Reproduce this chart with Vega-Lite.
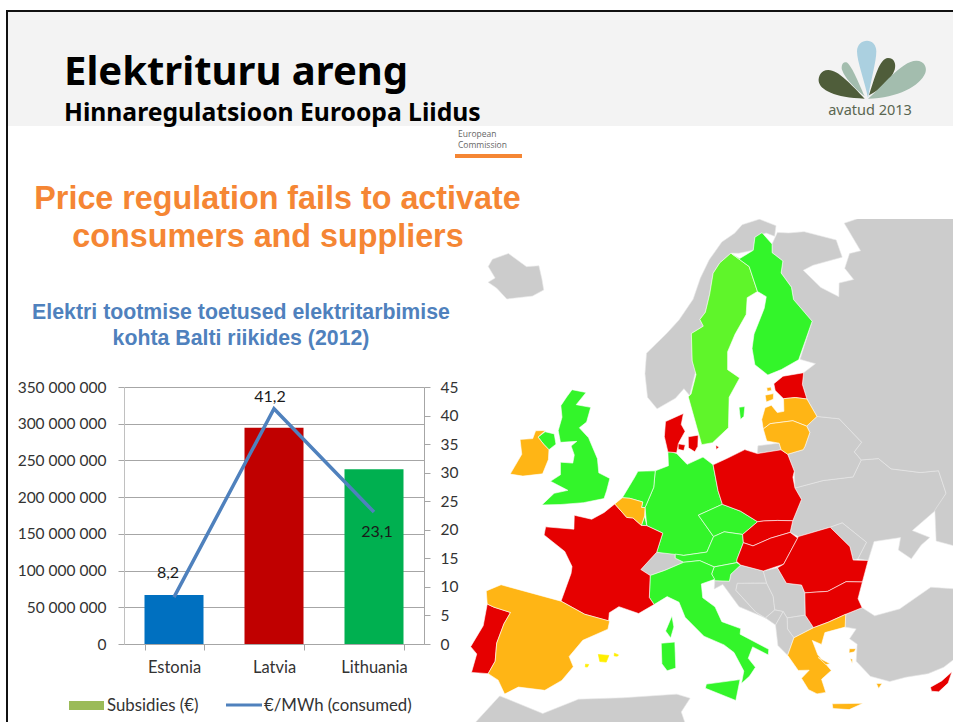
{"$schema":"https://vega.github.io/schema/vega-lite/v6.json","width":300,"height":257,"autosize":{"type":"none"},"padding":{"left":124,"top":387,"right":529,"bottom":78},"background":"white","config":{"view":{"stroke":null},"text":{"font":"Lato"}},
"datasets":{"one":[{}],
"chart":[{"country":"Estonia","subsidies":66700000,"price":8.2,"label":"8,2"},{"country":"Latvia","subsidies":294600000,"price":41.2,"label":"41,2"},{"country":"Lithuania","subsidies":238000000,"price":23.1,"label":"23,1"}],
"geo":[
{"p":"Iceland","s":"grey","c":[[-24,65.5],[-22,66.4],[-18,66.1],[-16,66.5],[-14.6,65.7],[-13.6,65],[-15,64.3],[-18.7,63.4],[-21,63.8],[-22.7,63.9],[-22,64.4],[-24,64.9],[-24,65.5]]},
{"p":"Norway","s":"grey","c":[[24,71],[28,71.1],[31,70.3],[30,69.6],[28.5,70],[26,69.9],[25,69],[22,69],[20.5,69.1],[18,68.5],[16.5,67.8],[15.5,66.3],[14.5,65],[13.5,64.5],[14,64],[12,63.5],[12,61.5],[12.5,60.8],[11.5,59],[10.7,59.5],[9.5,58.8],[7,58],[5.6,58.8],[5,60.5],[5,62],[8,63.5],[10,64.5],[12.5,66],[14,67.5],[16,68.8],[19,70],[22,70.5],[24,71]]},
{"p":"Kaliningrad","s":"grey","c":[[20,54.95],[22.7,54.9],[22.8,54.4],[19.8,54.4],[20,54.95]]},
{"p":"Switzerland","s":"grey","c":[[7.6,47.6],[9.6,47.5],[9.6,47.2],[10.5,46.9],[8.5,46.3],[7,45.9],[6,46.3],[7.6,47.6]]},
{"p":"Croatia","s":"grey","c":[[13.7,45.5],[15.2,45.4],[15.4,45.9],[16.5,46.5],[18.8,45.9],[19,45],[16,45.2],[15.8,44.7],[17.6,43],[18.5,42.5],[16,43.5],[14.5,45.2],[13.6,44.9],[13.7,45.5]]},
{"p":"Bosnia","s":"grey","c":[[16,45.2],[19,45],[19.5,44],[19.5,43],[18.5,42.5],[17.6,43],[15.8,44.7],[16,45.2]]},
{"p":"Serbia","s":"grey","c":[[18.8,45.9],[20.3,46],[21,44.8],[22.5,44.5],[22.7,43.9],[22.4,42.3],[20.6,42.3],[20.3,42.8],[19.5,43],[19.5,44],[19,45],[18.8,45.9]]},
{"p":"Montenegro","s":"grey","c":[[18.5,42.5],[19.5,43],[20.3,42.8],[19.4,41.9],[18.5,42.5]]},
{"p":"Macedonia","s":"grey","c":[[20.6,42.3],[22.4,42.3],[23,41.3],[21,40.8],[20.5,41.5],[20.6,42.3]]},
{"p":"Albania","s":"grey","c":[[19.4,41.9],[20.3,42.8],[20.6,42.3],[20.5,41.5],[21,40.8],[20.2,39.6],[19.4,40.4],[19.4,41.9]]},
{"p":"Ukraine","s":"grey","c":[[23.6,51.5],[27,51.6],[30.5,51.3],[32,52.3],[34,52],[35,51],[38,50],[40,49.6],[39.8,47.9],[38.2,47.1],[35,46.3],[36.5,45.4],[35.4,45.1],[34,44.4],[33,45.3],[33.6,46.1],[30.8,46.4],[29.7,45.2],[28.7,45.5],[30,46.5],[28,48.3],[26.6,48.2],[23,48],[22.2,48.4],[22.7,49.2],[24.1,50.6],[23.6,51.5]]},
{"p":"Moldova","s":"grey","c":[[26.6,48.2],[28,48.3],[30,46.5],[28.7,45.5],[28.2,45.5],[28.2,46.5],[26.6,48.2]]},
{"p":"Belarus","s":"grey","c":[[26.6,55.7],[28.2,56.2],[30.9,55.6],[32.7,53.5],[31.5,53],[32,52.3],[30.5,51.3],[27,51.6],[23.6,51.5],[23.9,52.7],[23.5,54],[25.5,54.1],[25.8,54.3],[26.8,55.2],[26.6,55.7]]},
{"p":"Russia","s":"grey","c":[[30.8,69.8],[33,69.5],[36,69.2],[41,67.7],[40.5,66.4],[35,66.7],[33,66.6],[34.8,65],[37,63.9],[38,64.8],[40.5,64.6],[40,65.6],[42,66.4],[44,66.2],[44,68.5],[50,68],[60,70],[80,70],[80,40],[47,40],[41.5,41.5],[40,43.4],[37,45],[38,47.1],[39.8,47.9],[40,49.6],[38,50],[35,51],[34,52],[32,52.3],[31.5,53],[32.7,53.5],[30.9,55.6],[28.2,56.2],[27.5,57.6],[27.4,58.7],[28,59.5],[30,59.9],[28,60.5],[31.5,62.9],[29.7,64.8],[30,65.7],[29,66.9],[30,67.7],[28.5,68.5],[29,69.1],[30.8,69.8]]},
{"p":"Turkey","s":"grey","c":[[26.3,41.8],[28,42],[29,41.2],[31.5,41.2],[35,42],[38,41],[41.5,41.5],[47,41.5],[47,36],[36,36],[35.8,36.7],[34,36.2],[32.5,36.1],[30.5,36.3],[29,36.3],[27.4,37],[26.4,38.3],[26.8,39.5],[26.2,40],[27,40.6],[26,40.9],[26.3,41.8]]},
{"p":"NorthAfrica","s":"grey","c":[[-6,35.8],[-2,35.1],[1,36.5],[5,36.9],[9.8,37.3],[11,37],[10.2,36],[11,34],[15,32.5],[20,31],[25,32],[30,31],[35,31.5],[35,20],[-20,20],[-10,30],[-6,35.8]]},
{"p":"Levant","s":"grey","c":[[36,36.5],[47,36],[47,28],[35,28],[34.3,31.3],[35.8,34.5],[36,36.5]]},
{"p":"Sweden","s":"lime","c":[[20.5,69.1],[23.5,67.9],[24,66],[22,65.7],[21.3,64.5],[19,63.2],[17.5,62],[17.2,60.7],[18.8,60],[17,58.7],[16.5,56.5],[14.3,55.5],[12.9,55.4],[11.3,58.9],[11.7,59.1],[12.5,60.5],[12,61.5],[12,63.5],[14,64],[13.5,64.5],[14.5,65],[15.5,66.3],[16.5,67.8],[18,68.5],[20.5,69.1]]},
{"p":"Finland","s":"green","c":[[26,69.9],[27.7,70.1],[29,69.1],[28.5,68.5],[30,67.7],[29,66.9],[30,65.7],[29.7,64.8],[31.5,62.9],[27.8,60.5],[25,60.1],[22.9,59.9],[21.3,60.8],[21.3,62],[22,63],[24.5,64.7],[25.3,65.5],[24,66],[23.5,67.9],[20.6,69.05],[22,68.6],[25,69],[26,69.9]]},
{"p":"Gotland","s":"green","c":[[18.2,57.9],[19,57.9],[18.7,57.2],[18.2,57],[18.2,57.9]]},
{"p":"Germany","s":"green","c":[[9,54.9],[9.7,54.8],[11,54],[13,54.5],[14.2,53.9],[14.6,52],[15,51],[12.2,50.3],[13.8,48.7],[13,47.6],[10.5,47.4],[7.6,47.6],[8.2,49],[6.4,49.5],[6.1,50.8],[7,52.3],[7.1,53.5],[8.7,53.9],[8.6,54.9],[9,54.9]]},
{"p":"Netherlands","s":"green","c":[[5,53.4],[7.1,53.5],[7,52.3],[6.1,50.8],[5.7,50.8],[5.8,51.2],[4.3,51.4],[3.4,51.4],[4.7,53],[5,53.4]]},
{"p":"Luxembourg","s":"green","c":[[6.1,50.2],[6.4,49.5],[5.8,49.5],[6.1,50.2]]},
{"p":"NorthernIreland","s":"green","c":[[-7.2,55.2],[-6,55.2],[-5.5,54.5],[-6.2,54],[-7,54.3],[-7.9,54.7],[-7.2,55.2]]},
{"p":"Britain","s":"green","c":[[-5,58.6],[-3,58.6],[-4,57.6],[-2,57.6],[-2.2,56.5],[-3,56],[-1.6,55.4],[-0.1,54],[0.3,53],[1.7,52.7],[1.5,51.8],[1.3,51.2],[-1,50.7],[-3.5,50.3],[-5.6,50],[-4.5,51],[-3,51.4],[-5.2,51.8],[-4.2,52.4],[-4.5,53.3],[-3,53.4],[-3,54],[-3.6,54.6],[-3,55],[-5,54.7],[-5.6,55.5],[-5.5,56.5],[-6,57.3],[-5.5,58],[-5,58.6]]},
{"p":"Czechia","s":"green","c":[[12.2,50.3],[15,51],[17,50.4],[18.8,49.5],[17,48.7],[15,49],[13.8,48.7],[12.2,50.3]]},
{"p":"Austria","s":"green","c":[[13.8,48.7],[15,49],[17,48.7],[17,48.1],[16.2,47],[16.1,46.7],[13.7,46.5],[12.2,47],[10.5,46.9],[9.6,47.2],[9.6,47.5],[10.5,47.4],[13,47.6],[13.8,48.7]]},
{"p":"Slovenia","s":"green","c":[[13.7,46.5],[16.1,46.7],[16.5,46.5],[15.4,45.9],[15.2,45.4],[13.7,45.5],[13.4,46],[13.7,46.5]]},
{"p":"Italy","s":"green","c":[[7,45.9],[8.5,46.3],[10.5,46.9],[12.2,47],[13.7,46.5],[13.4,46],[13.7,45.6],[12.3,45.3],[12.4,44.3],[13.6,43.6],[14.2,42.5],[16,41.9],[15.9,41.5],[18.5,40.2],[18.4,39.8],[17,40.5],[16.5,39.7],[17.1,39],[16.5,38.4],[15.7,37.9],[16,38.8],[15.2,40.2],[14.3,40.8],[12.4,41.5],[10.6,42.9],[10,44],[8.8,44.4],[7.5,43.8],[7,44.3],[7,45.9]]},
{"p":"Sicily","s":"green","c":[[12.5,38],[15.6,38.2],[15.1,36.7],[12.4,37.7],[12.5,38]]},
{"p":"Sardinia","s":"green","c":[[8.3,41],[9.6,41.1],[9.7,39.2],[8.9,39],[8.4,39.5],[8.3,41]]},
{"p":"Corsica","s":"green","c":[[9.3,43],[9.5,42.2],[9.2,41.4],[8.7,41.9],[9.3,43]]},
{"p":"Estonia","s":"red","c":[[23.5,59.2],[25,59.6],[28,59.5],[27.4,58.7],[27.5,57.6],[26,57.9],[24.4,58],[23.5,58.7],[23.5,59.2]]},
{"p":"Poland","s":"red","c":[[18.3,54.8],[19.8,54.4],[22.8,54.4],[23.5,54],[23.9,52.7],[23.6,52.3],[23.6,51.5],[24.1,50.6],[22.7,49.2],[21,49.4],[19.5,49.5],[18.8,49.5],[17,50.4],[15,51],[14.6,52],[14.2,53.9],[16,54.3],[18.3,54.8]]},
{"p":"Jutland","s":"red","c":[[10.6,57.7],[10.3,56.9],[10.8,56.4],[10,55.6],[9.7,54.85],[8.6,54.9],[8.1,56],[8.2,57.1],[10.6,57.7]]},
{"p":"Zealand","s":"red","c":[[11.2,56],[12.5,56.1],[12.4,55.3],[12,54.9],[11.2,55.2],[11.2,56]]},
{"p":"Funen","s":"red","c":[[9.9,55.5],[10.8,55.4],[10.6,55],[9.9,55.1],[9.9,55.5]]},
{"p":"Bornholm","s":"red","c":[[14.7,55.3],[15.1,55.15],[14.7,55],[14.7,55.3]]},
{"p":"France","s":"red","c":[[2.6,50.9],[4.1,50],[4.8,50],[5.8,49.5],[6.4,49.5],[8.2,49],[7.6,47.6],[6,46.3],[7,45.9],[7,44.3],[7.5,43.8],[6,43.1],[4,43.5],[3.1,43],[3.1,42.4],[0.7,42.7],[-1.8,43.4],[-1.2,45.5],[-1.2,46],[-2.2,47],[-4.7,47.9],[-4.7,48.5],[-1.6,48.7],[-1.8,49.7],[0.2,49.6],[1.5,50.2],[2.6,50.9]]},
{"p":"Portugal","s":"red","c":[[-8.9,42.1],[-8.2,42],[-6.5,41.9],[-6.9,41],[-7.2,39.5],[-7,38.2],[-7.4,37.2],[-8.9,37],[-8.8,38.4],[-9.5,38.8],[-8.8,40.5],[-8.9,42.1]]},
{"p":"Slovakia","s":"red","c":[[18,47.8],[20,48.2],[22.2,48.4],[22.7,49.2],[21,49.4],[19.5,49.5],[18.8,49.5],[17,48.7],[17,48.1],[18,47.8]]},
{"p":"Hungary","s":"red","c":[[18,47.8],[20,48.2],[22.2,48.4],[22.9,47.9],[21,46.2],[18.8,45.9],[16.5,46.5],[16.1,46.8],[16.2,47],[17,48.1],[18,47.8]]},
{"p":"Romania","s":"red","c":[[23,48],[26.6,48.2],[28.2,46.5],[28.2,45.5],[29.7,45.2],[28.6,43.8],[27,44.1],[25,43.7],[22.7,43.9],[22.5,44.5],[21,44.8],[20.3,46],[21,46.2],[22.9,47.9],[23,48]]},
{"p":"Bulgaria","s":"red","c":[[22.7,43.9],[25,43.7],[27,44.1],[28.6,43.8],[27.8,42.7],[28,42],[26.3,41.8],[24.5,41.5],[23,41.3],[22.4,42.3],[22.7,43.9]]},
{"p":"Cyprus","s":"red","c":[[32.4,35.1],[33.5,35.3],[34.6,35.7],[34,35],[33,34.6],[32.4,34.8],[32.4,35.1]]},
{"p":"Saaremaa","s":"orange","c":[[22,58.5],[23.2,58.5],[23,58.1],[22,58],[22,58.5]]},
{"p":"Hiiumaa","s":"orange","c":[[22.4,59],[23,59],[23,58.75],[22.4,58.75],[22.4,59]]},
{"p":"Latvia","s":"orange","c":[[21.7,57.6],[22.6,57.7],[23.2,57.1],[24.1,57.1],[24.4,58],[26,57.9],[27.5,57.6],[28.2,56.2],[26.6,55.7],[25,56.3],[22,56.4],[21,56.1],[21,56.8],[21.7,57.6]]},
{"p":"Lithuania","s":"orange","c":[[21,56.1],[22,56.4],[25,56.3],[26.6,55.7],[26.8,55.2],[25.8,54.3],[25.5,54.1],[23.5,54],[22.8,54.4],[22.7,54.9],[21.2,55.2],[21,56.1]]},
{"p":"Belgium","s":"orange","c":[[3.4,51.4],[4.3,51.4],[5.8,51.2],[5.7,50.8],[6.1,50.8],[6.1,50.2],[5.8,49.5],[4.8,50],[4.1,50],[2.6,50.9],[3.4,51.4]]},
{"p":"Spain","s":"orange","c":[[-8,43.7],[-1.8,43.4],[0.7,42.7],[3.2,42.4],[3.1,41.8],[0.8,40.8],[-0.3,39.5],[0.2,38.8],[-0.7,37.7],[-2.1,36.8],[-4.5,36.7],[-5.6,36],[-6.4,36.9],[-7.4,37.2],[-7,38.2],[-7.2,39.5],[-6.9,41],[-6.5,41.9],[-8.2,42],[-8.9,42.1],[-9.3,43],[-8,43.7]]},
{"p":"Ireland","s":"orange","c":[[-8.4,55.1],[-7.2,55.3],[-7.9,54.7],[-7,54.3],[-6.2,54],[-6,53.3],[-6.3,52.2],[-8.5,51.7],[-10,51.6],[-9.3,53.2],[-10,54.2],[-8.5,54.5],[-8.4,55.1]]},
{"p":"Greece","s":"orange","c":[[21,40.8],[23,41.3],[24.5,41.5],[26.3,41.8],[26,40.9],[24,40.8],[23.5,40],[22.7,40.4],[23,39.3],[24,38],[23,37.5],[23.2,36.5],[22.4,36.5],[21.7,36.9],[21.2,37.8],[22,38.3],[21,38.4],[20.2,39.6],[21,40.8]]},
{"p":"Crete","s":"orange","c":[[23.6,35.6],[25,35.4],[26.3,35.2],[25,34.95],[23.6,35.25],[23.6,35.6]]},
{"p":"Lesbos","s":"orange","c":[[26,39.3],[26.6,39.2],[26.4,39],[25.9,39],[26,39.3]]},
{"p":"Rhodes","s":"orange","c":[[27.8,36.4],[28.3,36.3],[27.9,36],[27.8,36.4]]},
{"p":"Chios","s":"orange","c":[[25.9,38.6],[26.1,38.5],[26,38.2],[25.9,38.6]]},
{"p":"Evia","s":"orange","c":[[23,39.1],[24,38.5],[23.6,38.5],[23,39.1]]},
{"p":"Mallorca","s":"yellow","c":[[2.4,39.9],[3.4,39.9],[3.2,39.4],[2.6,39.4],[2.4,39.9]]},
{"p":"Menorca","s":"yellow","c":[[3.9,40.1],[4.3,40],[4.2,39.9],[3.9,39.9],[3.9,40.1]]},
{"p":"Ibiza","s":"yellow","c":[[1.3,39.1],[1.6,39.1],[1.5,38.9],[1.3,38.9],[1.3,39.1]]}
]},
"resolve":{"scale":{"x":"independent","y":"independent"},"axis":{"x":"independent","y":"independent"}},
"layer":[
{"data":{"name":"geo"},"transform":[{"flatten":["c"]},{"calculate":"datum.c[1]*PI/180","as":"la"},{"calculate":"(datum.c[0]-10)*PI/180","as":"dl"},{"calculate":"sqrt(2/(1+0.78801*sin(datum.la)+0.61566*cos(datum.la)*cos(datum.dl)))","as":"k"},{"calculate":"datum.k*cos(datum.la)*sin(datum.dl)","as":"east"},{"calculate":"datum.k*(0.61566*sin(datum.la)-0.78801*cos(datum.la)*cos(datum.dl))","as":"north"}],
"encoding":{"x":{"field":"east","type":"quantitative","axis":null,"scale":{"domain":[-0.26456,0.34684],"range":[346,829],"nice":false,"zero":false}},"y":{"field":"north","type":"quantitative","axis":null,"scale":{"domain":[-0.29114,0.34557],"range":[335,-168],"nice":false,"zero":false}},"detail":{"field":"p"},"order":{"value":null}},
"layer":[
{"transform":[{"filter":"datum.s==='grey'"}],"mark":{"type":"line","fill":"#cccccc","stroke":"#e8e8e8","strokeWidth":0.6,"interpolate":"linear"}},
{"transform":[{"filter":"datum.s==='lime'"}],"mark":{"type":"line","fill":"#5ff52a","stroke":"#ffffff","strokeWidth":0.6,"interpolate":"linear"}},
{"transform":[{"filter":"datum.s==='green'"}],"mark":{"type":"line","fill":"#33f52a","stroke":"#ffffff","strokeWidth":0.6,"interpolate":"linear"}},
{"transform":[{"filter":"datum.s==='red'"}],"mark":{"type":"line","fill":"#e60000","stroke":"#ffffff","strokeWidth":0.6,"interpolate":"linear"}},
{"transform":[{"filter":"datum.s==='orange'"}],"mark":{"type":"line","fill":"#ffb515","stroke":"#ffffff","strokeWidth":0.6,"interpolate":"linear"}},
{"transform":[{"filter":"datum.s==='yellow'"}],"mark":{"type":"line","fill":"#ffee00","stroke":"#ffee00","strokeWidth":0.6,"interpolate":"linear"}}
]},
{"data":{"name":"one"},"mark":{"type":"rect","color":"#ffffff"},"encoding":{"x":{"value":-124},"x2":{"value":829},"y":{"value":-387},"y2":{"value":-377}}},
{"data":{"name":"one"},"mark":{"type":"rect","color":"#ffffff"},"encoding":{"x":{"value":346},"x2":{"value":829},"y":{"value":-261},"y2":{"value":-168}}},
{"data":{"name":"one"},"mark":{"type":"rect","color":"#f3f3f3"},"encoding":{"x":{"value":-117},"x2":{"value":829},"y":{"value":-375},"y2":{"value":-261}}},
{"data":{"name":"one"},"mark":{"type":"rect","color":"#111111"},"encoding":{"x":{"value":-118},"x2":{"value":829},"y":{"value":-377},"y2":{"value":-375}}},
{"data":{"name":"one"},"mark":{"type":"rect","color":"#111111"},"encoding":{"x":{"value":-118},"x2":{"value":-116},"y":{"value":-377},"y2":{"value":335}}},
{"data":{"name":"one"},"mark":{"type":"text","x":-60,"y":-302.5,"text":"Elektrituru areng","font":"Noto Sans","fontWeight":"bold","fontSize":40,"align":"left","baseline":"alphabetic","color":"#000000"}},
{"data":{"name":"one"},"mark":{"type":"text","x":-60,"y":-266.5,"text":"Hinnaregulatsioon Euroopa Liidus","font":"Noto Sans","fontWeight":"bold","fontSize":24.7,"align":"left","baseline":"alphabetic","color":"#000000"}},
{"data":{"name":"one"},"mark":{"type":"text","x":334,"y":-250,"text":"European","font":"Open Sans","fontSize":8.5,"align":"left","baseline":"alphabetic","color":"#666666"}},
{"data":{"name":"one"},"mark":{"type":"text","x":334,"y":-239,"text":"Commission","font":"Open Sans","fontSize":8.5,"align":"left","baseline":"alphabetic","color":"#666666"}},
{"data":{"name":"one"},"mark":{"type":"rect","color":"#f58634"},"encoding":{"x":{"value":331},"x2":{"value":398},"y":{"value":-233},"y2":{"value":-229}}},
{"data":{"name":"one"},"mark":{"type":"text","x":153.5,"y":-178,"text":"Price regulation fails to activate","font":"Liberation Sans","fontWeight":"bold","fontSize":32.3,"align":"center","baseline":"alphabetic","color":"#f58634"}},
{"data":{"name":"one"},"mark":{"type":"text","x":144,"y":-140,"text":"consumers and suppliers","font":"Liberation Sans","fontWeight":"bold","fontSize":32.3,"align":"center","baseline":"alphabetic","color":"#f58634"}},
{"data":{"name":"one"},"mark":{"type":"text","x":117,"y":-68,"text":"Elektri tootmise toetused elektritarbimise","font":"Liberation Sans","fontWeight":"bold","fontSize":21.3,"align":"center","baseline":"alphabetic","color":"#4f81bd"}},
{"data":{"name":"one"},"mark":{"type":"text","x":117,"y":-42,"text":"kohta Balti riikides (2012)","font":"Liberation Sans","fontWeight":"bold","fontSize":21.3,"align":"center","baseline":"alphabetic","color":"#4f81bd"}},
{"data":{"name":"one"},"mark":{"type":"point","filled":true,"opacity":1,"color":"#abd0e0","size":0.444,"shape":"M0,0 C-10,-50 -33,-110 -33,-140 C-33,-160 -18,-172 -3,-172 C12,-172 25,-160 25,-140 C25,-110 8,-50 0,0 Z"},"encoding":{"x":{"value":744},"y":{"value":-289}}},
{"data":{"name":"one"},"mark":{"type":"point","filled":true,"opacity":1,"color":"#4f5d3a","size":0.444,"shape":"M-10,2 C-50,-40 -90,-85 -120,-84 C-140,-84 -150,-65 -148,-50 C-145,-25 -100,0 -10,2 Z M3,-8 C20,-60 35,-120 60,-120 C80,-120 85,-100 80,-85 C70,-55 35,-25 3,-8 Z"},"encoding":{"x":{"value":744},"y":{"value":-289}}},
{"data":{"name":"one"},"mark":{"type":"point","filled":true,"opacity":1,"color":"#a3bdae","size":0.444,"shape":"M-10,-5 C-30,-50 -50,-100 -65,-107 C-80,-110 -80,-90 -78,-85 C-70,-60 -40,-30 -10,-5 Z M0,2 C40,-30 100,-112 145,-112 C170,-112 178,-90 172,-75 C155,-35 90,0 0,2 Z"},"encoding":{"x":{"value":744},"y":{"value":-289}}},
{"data":{"name":"one"},"mark":{"type":"text","x":746,"y":-272,"text":"avatud 2013","font":"Noto Sans","fontSize":14.5,"align":"center","baseline":"alphabetic","color":"#5a6650"}},
{"data":{"name":"chart"},"mark":{"type":"bar","width":59},"encoding":{
"x":{"field":"country","type":"nominal","sort":null,"title":null,"scale":{"paddingInner":0.41,"paddingOuter":0.205},"axis":{"labelAngle":0,"labelFont":"Lato","labelFontSize":16.5,"labelColor":"#333333","tickBand":"extent","tickColor":"#a6a6a6","domainColor":"#a6a6a6","tickSize":6,"labelPadding":9,"grid":false}},
"y":{"field":"subsidies","type":"quantitative","title":null,"scale":{"domain":[0,350000000],"nice":false},"axis":{"values":[0,50000000,100000000,150000000,200000000,250000000,300000000,350000000],"labelExpr":"replace(format(datum.value,','),/,/g,' ')","labelFont":"Lato","labelFontSize":15.5,"labelColor":"#333333","grid":true,"gridColor":"#a6a6a6","tickColor":"#a6a6a6","domainColor":"#c0c0c0","tickSize":6,"labelPadding":12}},
"color":{"field":"country","type":"nominal","legend":null,"scale":{"domain":["Estonia","Latvia","Lithuania"],"range":["#0070c0","#c00000","#00b050"]}}}},
{"data":{"name":"chart"},"mark":{"type":"line","color":"#4f81bd","strokeWidth":3.5,"interpolate":"linear"},"encoding":{
"x":{"field":"country","type":"nominal","sort":null,"scale":{"paddingInner":0.41,"paddingOuter":0.205},"axis":null},
"y":{"field":"price","type":"quantitative","title":null,"scale":{"domain":[0,45],"nice":false},"axis":{"orient":"right","values":[0,5,10,15,20,25,30,35,40,45],"labelFont":"Lato","labelFontSize":15.5,"labelColor":"#333333","grid":false,"tickColor":"#a6a6a6","domainColor":"#a6a6a6","tickSize":6,"labelPadding":10}}}},
{"data":{"name":"chart"},"transform":[{"filter":"datum.country==='Estonia'"}],"mark":{"type":"text","font":"Lato","fontSize":16,"color":"#1a1a1a","dx":-6,"dy":-24},"encoding":{"x":{"field":"country","type":"nominal","sort":null,"scale":{"domain":["Estonia","Latvia","Lithuania"],"paddingInner":0.41,"paddingOuter":0.205},"axis":null},"y":{"field":"price","type":"quantitative","scale":{"domain":[0,45],"nice":false},"axis":null},"text":{"field":"label"}}},
{"data":{"name":"chart"},"transform":[{"filter":"datum.country==='Latvia'"}],"mark":{"type":"text","font":"Lato","fontSize":16,"color":"#1a1a1a","dx":-4,"dy":-12},"encoding":{"x":{"field":"country","type":"nominal","sort":null,"scale":{"domain":["Estonia","Latvia","Lithuania"],"paddingInner":0.41,"paddingOuter":0.205},"axis":null},"y":{"field":"price","type":"quantitative","scale":{"domain":[0,45],"nice":false},"axis":null},"text":{"field":"label"}}},
{"data":{"name":"chart"},"transform":[{"filter":"datum.country==='Lithuania'"}],"mark":{"type":"text","font":"Lato","fontSize":16,"color":"#1a1a1a","dx":3,"dy":20},"encoding":{"x":{"field":"country","type":"nominal","sort":null,"scale":{"domain":["Estonia","Latvia","Lithuania"],"paddingInner":0.41,"paddingOuter":0.205},"axis":null},"y":{"field":"price","type":"quantitative","scale":{"domain":[0,45],"nice":false},"axis":null},"text":{"field":"label"}}},
{"data":{"name":"one"},"mark":{"type":"rect","color":"#9bbb59"},"encoding":{"x":{"value":-55},"x2":{"value":-20},"y":{"value":314},"y2":{"value":323}}},
{"data":{"name":"one"},"mark":{"type":"text","x":-17,"y":324,"text":"Subsidies (€)","font":"Lato","fontSize":16.8,"align":"left","baseline":"alphabetic","color":"#333333"}},
{"data":{"name":"one"},"mark":{"type":"rule","color":"#4f81bd","strokeWidth":3},"encoding":{"x":{"value":102},"x2":{"value":138},"y":{"value":318}}},
{"data":{"name":"one"},"mark":{"type":"text","x":140,"y":324,"text":"€/MWh (consumed)","font":"Lato","fontSize":16.8,"align":"left","baseline":"alphabetic","color":"#333333"}}
]}
